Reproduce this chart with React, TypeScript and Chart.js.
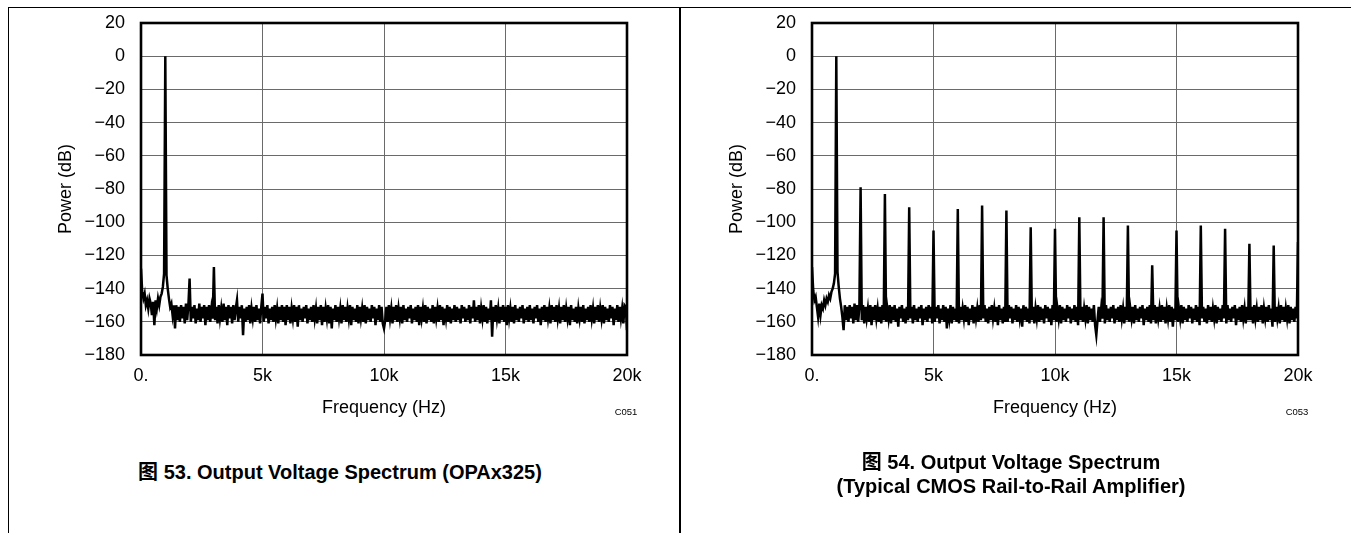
import React, { useEffect, useRef } from "react";
import { Chart, registerables } from "chart.js";

Chart.register(...registerables);

// ---------- data ----------
const BIN_HZ = 50; // FFT bin spacing (Hz), bins 0..20000

const xTickValues = [0, 5000, 10000, 15000, 20000];
const xTickLabels = ["0.", "5k", "10k", "15k", "20k"];
const yTickValues = [20, 0, -20, -40, -60, -80, -100, -120, -140, -160, -180];
const yTickLabels = ["20", "0", "\u221220", "\u221240", "\u221260", "\u221280", "\u2212100", "\u2212120", "\u2212140", "\u2212160", "\u2212180"];

// Figure 53 (OPAx325): noise floor, one row per kHz (20 bins of 50 Hz)
const opaNoise = [
  -128, -142, -146, -143, -150, -147, -152, -146, -149, -156, -148, -162, -147, -152, -146, -150, -145, -143, -139, -131,
  -130, -132, -140, -146, -151, -149, -156, -150, -164, -150, -159, -151, -160, -150, -158, -151, -161, -149, -159, -150,
  -150, -160, -151, -158, -150, -161, -152, -159, -149, -160, -151, -158, -150, -162, -151, -159, -150, -160, -152, -158,
  -151, -159, -151, -161, -150, -158, -152, -160, -149, -159, -151, -162, -150, -158, -151, -161, -150, -159, -152, -147,
  -160, -151, -158, -150, -168, -152, -160, -151, -159, -150, -161, -152, -158, -151, -160, -150, -159, -152, -161, -151,
  -151, -160, -151, -158, -150, -161, -152, -159, -151, -160, -150, -158, -152, -161, -151, -159, -150, -160, -151, -162,
  -150, -159, -151, -161, -152, -158, -150, -160, -151, -163, -150, -159, -152, -160, -151, -158, -150, -161, -152, -159,
  -151, -160, -150, -158, -152, -161, -151, -159, -150, -162, -151, -160, -152, -158, -150, -161, -151, -164, -152, -159,
  -150, -160, -151, -158, -152, -161, -150, -159, -151, -160, -152, -158, -150, -162, -151, -159, -152, -160, -150, -161,
  -151, -158, -152, -160, -150, -161, -151, -159, -152, -160, -150, -158, -151, -162, -152, -159, -150, -160, -151, -161,
  -164, -159, -151, -160, -150, -158, -152, -161, -151, -159, -150, -160, -152, -158, -151, -161, -150, -159, -152, -160,
  -151, -158, -150, -161, -152, -159, -151, -160, -150, -162, -151, -158, -152, -160, -150, -161, -151, -159, -152, -160,
  -150, -161, -151, -158, -152, -160, -150, -159, -151, -162, -152, -158, -150, -160, -151, -161, -152, -159, -150, -160,
  -151, -159, -152, -161, -150, -158, -151, -160, -152, -159, -150, -161, -151, -158, -147, -160, -151, -159, -150, -161,
  -152, -158, -150, -160, -151, -161, -152, -159, -147, -169, -151, -160, -150, -158, -152, -161, -151, -159, -150, -160,
  -151, -162, -150, -158, -152, -160, -151, -161, -150, -159, -152, -160, -151, -158, -150, -161, -152, -159, -151, -160,
  -150, -159, -152, -161, -151, -158, -150, -160, -152, -162, -151, -159, -150, -160, -151, -158, -152, -161, -150, -159,
  -151, -160, -150, -158, -152, -161, -151, -159, -150, -160, -152, -158, -151, -162, -150, -159, -152, -160, -151, -161,
  -152, -158, -151, -160, -150, -161, -152, -159, -151, -160, -150, -158, -152, -161, -151, -159, -150, -160, -152, -158,
  -150, -161, -151, -159, -152, -160, -150, -158, -151, -162, -152, -159, -150, -160, -151, -158, -152, -161, -150, -151,
  -165,
];
const opaToneHz = [1000, 2000, 3000, 5000];
const opaToneDb = [0, -134, -127, -143];

// Figure 54 (typical CMOS RRIO): noise floor
const cmosNoise = [
  -127, -141, -147, -145, -151, -157, -149, -156, -150, -152, -147, -150, -146, -148, -144, -146, -142, -140, -137, -131,
  -130, -130, -139, -146, -151, -157, -165, -150, -159, -151, -160, -150, -158, -151, -161, -149, -159, -150, -160, -151,
  -150, -159, -150, -161, -151, -158, -152, -160, -150, -162, -151, -159, -150, -158, -152, -160, -151, -161, -150, -159,
  -151, -160, -152, -158, -150, -161, -151, -159, -150, -160, -152, -163, -151, -158, -150, -160, -152, -161, -151, -159,
  -150, -158, -151, -161, -150, -159, -152, -160, -151, -158, -150, -162, -152, -159, -151, -160, -150, -158, -151, -161,
  -152, -160, -151, -158, -150, -161, -152, -159, -150, -160, -151, -164, -152, -158, -150, -161, -151, -159, -152, -160,
  -150, -161, -151, -159, -152, -158, -150, -160, -151, -162, -152, -159, -150, -161, -151, -158, -152, -160, -150, -159,
  -151, -158, -150, -160, -152, -161, -151, -159, -150, -158, -152, -160, -151, -162, -150, -159, -152, -161, -151, -160,
  -152, -160, -150, -158, -151, -161, -152, -159, -150, -160, -151, -158, -152, -163, -150, -159, -151, -160, -152, -161,
  -150, -159, -151, -161, -152, -158, -150, -160, -151, -159, -152, -161, -150, -158, -151, -160, -152, -162, -150, -159,
  -151, -160, -152, -158, -150, -161, -151, -159, -152, -160, -150, -158, -151, -161, -152, -159, -150, -160, -151, -162,
  -150, -159, -151, -160, -152, -158, -150, -161, -151, -159, -152, -160, -150, -162, -168, -159, -151, -160, -152, -158,
  -151, -161, -150, -159, -152, -160, -151, -158, -150, -161, -152, -159, -151, -160, -150, -158, -152, -161, -151, -159,
  -150, -160, -152, -158, -151, -161, -150, -159, -152, -160, -151, -158, -150, -162, -152, -159, -151, -160, -150, -161,
  -152, -159, -150, -161, -151, -158, -152, -160, -150, -159, -151, -161, -152, -158, -150, -160, -151, -163, -152, -159,
  -151, -160, -152, -158, -150, -161, -151, -159, -152, -160, -150, -158, -151, -161, -152, -159, -150, -160, -151, -162,
  -150, -158, -151, -160, -152, -161, -150, -159, -151, -160, -152, -158, -150, -161, -151, -159, -152, -160, -150, -158,
  -151, -161, -150, -159, -152, -160, -151, -158, -150, -162, -152, -159, -151, -160, -150, -158, -152, -161, -151, -159,
  -152, -159, -151, -161, -150, -158, -152, -160, -151, -159, -150, -161, -152, -158, -151, -160, -150, -159, -152, -163,
  -150, -160, -151, -158, -152, -161, -150, -159, -151, -160, -152, -158, -150, -161, -151, -159, -152, -160, -151, -158,
  -150,
];
const cmosToneHz = [1000, 2000, 3000, 4000, 5000, 6000, 7000, 8000, 9000, 10000, 11000, 12000, 13000, 14000, 15000, 16000, 17000, 18000, 19000, 20000];
const cmosToneDb = [0, -79, -83, -91, -105, -92, -90, -93, -103, -104, -97, -97, -102, -126, -105, -102, -104, -113, -114, -112];

// ---------- helpers ----------
function buildSpectrum(noise: number[], toneHz: number[], toneDb: number[]) {
  return noise.map((v, i) => {
    const f = i * BIN_HZ;
    const k = toneHz.indexOf(f);
    return { x: f, y: k >= 0 ? toneDb[k] : v };
  });
}

const FONT = "'Liberation Sans', Arial, 'Noto Sans CJK SC', sans-serif";
const CANVAS_W = 680;
const CANVAS_H = 440;

const framePlugin = {
  id: "frame",
  afterDatasetsDraw(chart: any) {
    const { ctx, chartArea } = chart;
    const { left, top, right, bottom } = chartArea;
    ctx.save();
    ctx.strokeStyle = "#000";
    ctx.lineWidth = 2.6;
    ctx.strokeRect(left, top, right - left, bottom - top);
    ctx.restore();
  },
};

function SpectrumChart({ points }: { points: { x: number; y: number }[] }) {
  const ref = useRef<HTMLCanvasElement | null>(null);
  useEffect(() => {
    if (!ref.current) return;
    const chart = new Chart(ref.current, {
      type: "line",
      data: {
        datasets: [
          {
            data: points,
            borderColor: "#000",
            borderWidth: 2.5,
            pointRadius: 0,
            tension: 0,
            fill: false,
          },
        ],
      },
      options: {
        animation: false,
        responsive: false,
        devicePixelRatio: 1,
        events: [],
        layout: { padding: { left: 51.2, top: 23, right: 53, bottom: 17.2 } },
        plugins: { legend: { display: false }, tooltip: { enabled: false } },
        scales: {
          x: {
            type: "linear",
            min: 0,
            max: 20000,
            afterBuildTicks: (s: any) => {
              s.ticks = xTickValues.map((v) => ({ value: v }));
            },
            afterFit: (s: any) => {
              s.height = 67.8;
            },
            ticks: {
              autoSkip: false,
              maxRotation: 0,
              padding: 10,
              color: "#000",
              font: { family: FONT, size: 18 },
              callback: (v: any) => {
                const k = xTickValues.indexOf(Number(v));
                return k >= 0 ? xTickLabels[k] : "";
              },
            },
            grid: { color: "#6a6a6a", lineWidth: 1, drawTicks: false },
            border: { display: false },
            title: {
              display: true,
              text: "Frequency (Hz)",
              color: "#000",
              font: { family: FONT, size: 18 },
              padding: { top: 4, bottom: 4 },
            },
          },
          y: {
            type: "linear",
            min: -180,
            max: 20,
            afterBuildTicks: (s: any) => {
              s.ticks = yTickValues.map((v) => ({ value: v }));
            },
            afterFit: (s: any) => {
              s.width = 89.8;
            },
            ticks: {
              autoSkip: false,
              padding: 0,
              color: "#000",
              font: { family: FONT, size: 18 },
              callback: (v: any) => {
                const k = yTickValues.indexOf(Number(v));
                return k >= 0 ? yTickLabels[k] : "";
              },
            },
            grid: {
              color: "#6a6a6a",
              lineWidth: 1,
              drawTicks: true,
              tickLength: 16,
              tickColor: "rgba(0,0,0,0)",
            },
            border: { display: false },
            title: {
              display: true,
              text: "Power (dB)",
              color: "#000",
              font: { family: FONT, size: 18 },
              padding: { top: 4, bottom: 4 },
            },
          },
        },
      },
      plugins: [framePlugin],
    } as any);
    return () => chart.destroy();
  }, [points]);
  return (
    <canvas
      ref={ref}
      width={CANVAS_W}
      height={CANVAS_H}
      style={{ width: CANVAS_W, height: CANVAS_H, display: "block" }}
    />
  );
}

const opaPoints = buildSpectrum(opaNoise, opaToneHz, opaToneDb);
const cmosPoints = buildSpectrum(cmosNoise, cmosToneHz, cmosToneDb);

const abs = (l: number, t: number, w: number, h: number): React.CSSProperties => ({
  position: "absolute",
  left: l,
  top: t,
  width: w,
  height: h,
});

const codeStyle: React.CSSProperties = {
  position: "absolute",
  fontFamily: FONT,
  fontSize: 9.5,
  color: "#000",
  transform: "translate(-50%, -50%)",
  whiteSpace: "nowrap",
};

const captionStyle: React.CSSProperties = {
  position: "absolute",
  width: 680,
  textAlign: "center",
  fontFamily: FONT,
  fontWeight: "bold",
  fontSize: 20,
  lineHeight: "24px",
  color: "#000",
};

export default function App() {
  return (
    <div style={{ position: "absolute", left: 0, top: 0, width: 1351, height: 533, background: "#fff", overflow: "hidden" }}>
      <div style={{ ...abs(8, 7, 1343, 1), background: "#000" }} />
      <div style={{ ...abs(8, 7, 1, 526), background: "#000" }} />
      <div style={{ ...abs(679, 7, 1.5, 526), background: "#000" }} />

      <div style={abs(0, 0, CANVAS_W, CANVAS_H)}>
        <SpectrumChart points={opaPoints} />
      </div>
      <div style={abs(671, 0, CANVAS_W, CANVAS_H)}>
        <SpectrumChart points={cmosPoints} />
      </div>

      <div style={{ ...codeStyle, left: 626, top: 411 }}>C051</div>
      <div style={{ ...codeStyle, left: 1297, top: 411 }}>C053</div>

      <div style={{ ...captionStyle, left: 0, top: 460 }}>图 53. Output Voltage Spectrum (OPAx325)</div>
      <div style={{ ...captionStyle, left: 671, top: 450 }}>
        图 54. Output Voltage Spectrum
        <br />
        (Typical CMOS Rail-to-Rail Amplifier)
      </div>
    </div>
  );
}
